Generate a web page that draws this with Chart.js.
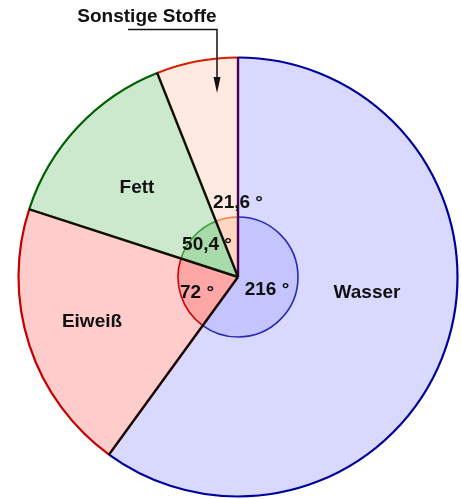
<!DOCTYPE html>
<html>
<head>
<meta charset="utf-8">
<script src="https://cdn.jsdelivr.net/npm/chart.js@4"></script>
<style>
html,body{margin:0;padding:0;background:#fff;}
#wrap{width:461px;height:499px;position:relative;}
</style>
</head>
<body>
<div id="wrap"><canvas id="c"></canvas></div>
<script>
// Data (angles in degrees)
const categories = ["Wasser", "Eiweiß", "Fett", "Sonstige Stoffe"];
const angleValues = [216, 72, 50.4, 21.6];
const angleLabels = ["216 °", "72 °", "50,4 °", "21,6 °"];

const fillColors = ["#d9d9ff", "#ffcccc", "#cde9cd", "#ffeae2"];
const innerFill = ["#c4c4ff", "#ffa6a6", "#a9daa9", "#ffd6c2"];
const outerBorder = ["#00009a", "#c40000", "#006000", "#d42000"];
const innerBorder = ["#2a2ab4", "#d00000", "#3c9e3c", "#ff7a44"];
const radialColors = ["#4a0050", "#1a0000", "#101000", "#101000"]; // at start angle of each slice

const FONT = "bold 19px 'Liberation Sans', Arial, sans-serif";

const borderPlugin = {
  id: 'borders',
  afterDatasetsDraw(chart) {
    const ctx = chart.ctx;
    const outer = chart.getDatasetMeta(0).data;
    const inner = chart.getDatasetMeta(1).data;
    ctx.save();
    inner.forEach((a, i) => {
      const p = a.getProps(['x','y','startAngle','endAngle','outerRadius'], true);
      ctx.beginPath();
      ctx.arc(p.x, p.y, p.outerRadius, p.startAngle, p.endAngle);
      ctx.strokeStyle = innerBorder[i];
      ctx.lineWidth = 1.6;
      ctx.stroke();
    });
    outer.forEach((a, i) => {
      const p = a.getProps(['x','y','startAngle','endAngle','outerRadius'], true);
      ctx.beginPath();
      ctx.arc(p.x, p.y, p.outerRadius - 0.5, p.startAngle, p.endAngle);
      ctx.strokeStyle = outerBorder[i];
      ctx.lineWidth = 2.2;
      ctx.stroke();
    });
    outer.forEach((a, i) => {
      const p = a.getProps(['x','y','startAngle','endAngle','outerRadius'], true);
      ctx.beginPath();
      ctx.moveTo(p.x, p.y);
      ctx.lineTo(p.x + Math.cos(p.startAngle) * p.outerRadius, p.y + Math.sin(p.startAngle) * p.outerRadius);
      ctx.strokeStyle = radialColors[i];
      ctx.lineWidth = 2.4;
      ctx.stroke();
    });
    ctx.restore();
  },
  afterDraw(chart) {
    const ctx = chart.ctx;
    const c = chart.getDatasetMeta(0).data[0];
    const cx = c.x, cy = c.y;
    ctx.save();
    ctx.font = FONT;
    ctx.fillStyle = "#111";
    ctx.textAlign = "center";
    ctx.textBaseline = "middle";
    const nameOffsets = [[129, 16], [-146, 45], [-101, -89]];
    for (let i = 0; i < 3; i++) {
      ctx.fillText(categories[i], cx + nameOffsets[i][0], cy + nameOffsets[i][1]);
    }
    const angleOffsets = [[29, 13], [-41, 16], [-31, -32], [0, -74]];
    angleLabels.forEach((t, i) => ctx.fillText(t, cx + angleOffsets[i][0], cy + angleOffsets[i][1]));
    ctx.fillText(categories[3], cx - 91, cy - 260);
    ctx.beginPath();
    ctx.moveTo(cx - 110, cy - 247.5);
    ctx.lineTo(cx - 21, cy - 247.5);
    ctx.lineTo(cx - 21, cy - 195);
    ctx.strokeStyle = "#111";
    ctx.lineWidth = 1.5;
    ctx.stroke();
    ctx.beginPath();
    ctx.moveTo(cx - 24.5, cy - 200);
    ctx.lineTo(cx - 17.5, cy - 200);
    ctx.lineTo(cx - 21, cy - 184);
    ctx.closePath();
    ctx.fillStyle = "#111";
    ctx.fill();
    ctx.restore();
  }
};

new Chart(document.getElementById('c'), {
  type: 'pie',
  data: {
    labels: categories,
    datasets: [
      { data: angleValues, backgroundColor: fillColors, borderWidth: 0, weight: 160 },
      { data: angleValues, backgroundColor: innerFill, borderWidth: 0, weight: 60 }
    ]
  },
  options: {
    responsive: true,
    maintainAspectRatio: false,
    animation: false,
    events: [],
    layout: { padding: { left: 18, right: 3, top: 57, bottom: 2 } },
    plugins: { legend: { display: false }, tooltip: { enabled: false } }
  },
  plugins: [borderPlugin]
});
</script>
</body>
</html>
